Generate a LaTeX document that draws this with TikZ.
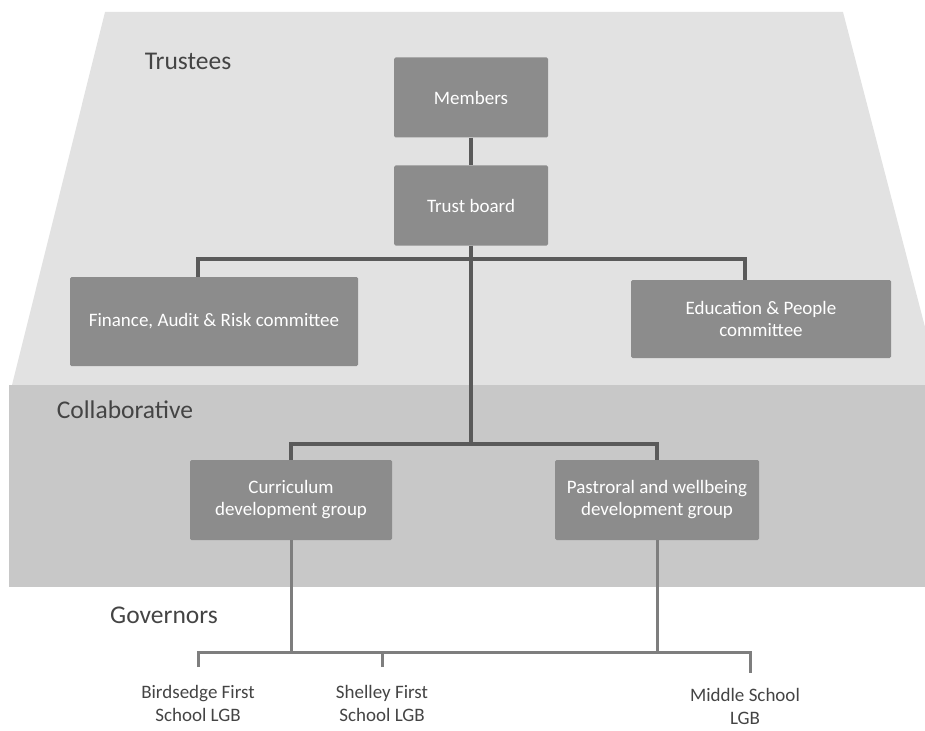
\documentclass[tikz,border=0pt]{standalone}
\usepackage{fontspec}
\setmainfont{Carlito}
\definecolor{paleband}{HTML}{E2E2E2}
\definecolor{midband}{HTML}{C8C8C8}
\definecolor{boxgray}{HTML}{8C8C8C}
\definecolor{linegray}{HTML}{5A5A5A}
\definecolor{lowgray}{HTML}{7E7E7E}
\definecolor{inkgray}{HTML}{444444}
\tikzset{
  unit/.style={fill=boxgray, text=white, rounded corners=1.5pt, align=center,
    font=\fontsize{19}{22}\selectfont, inner sep=2pt},
  tier/.style={text=inkgray, font=\fontsize{25.5}{30}\selectfont, inner sep=0pt},
  school/.style={text=inkgray, align=center, anchor=north, inner xsep=0pt, inner ysep=18pt,
    font=\fontsize{19}{23}\selectfont},
  link/.style={draw=linegray, line width=3.5pt},
  lowlink/.style={draw=lowgray, line width=3pt}
}
\begin{document}
\begin{tikzpicture}[x=1pt, y=-1pt]
  \useasboundingbox (0,0) rectangle (925,730);
  % the three tiers
  \fill[paleband] (105,12) -- (843,12) -- (925,327) -- (925,385) -- (12,385) -- cycle;
  \fill[midband] (9,385) rectangle (925,587);
  \node[tier] (trustees) at (188,61) {Trustees};
  \node[tier] (collab) at (125,410) {Collaborative};
  \node[tier] (governors) at (164,615) {Governors};

  % boxes
  \node[unit, minimum width=154pt, minimum height=80pt] (members) at (471,97.5) {Members};
  \node[unit, minimum width=154pt, minimum height=80pt] (board) at (471,205.5) {Trust board};
  \node[unit, minimum width=288pt, minimum height=89pt] (finance) at (214,321.5) {Finance, Audit \& Risk committee};
  \node[unit, minimum width=260pt, minimum height=78pt] (edu) at (761,319) {Education \& People\\committee};
  \node[unit, minimum width=202pt, minimum height=80pt] (curric) at (291,500) {Curriculum\\development group};
  \node[unit, minimum width=204pt, minimum height=80pt] (pastoral) at (657,500) {Pastroral and wellbeing\\development group};

  % schools
  \node[school] (birdsedge) at (198,667) {Birdsedge First\\School LGB};
  \node[school] (shelley) at (382,667) {Shelley First\\School LGB};
  \node[school] (middle) at (745,670) {Middle School\\LGB};

  \coordinate (trustbus) at (471,259);
  \coordinate (collabbus) at (471,444);
  \coordinate (govbus) at (471,652);

  % connectors
  \draw[link] (members) -- (board);
  \draw[link] ([xshift=-16pt]finance.north) |- (trustbus) -| ([xshift=-16pt]edu.north);
  \draw[link] (board.south) -- (collabbus);
  \draw[link] (curric.north) |- (collabbus) -| (pastoral.north);
  \draw[lowlink] (curric.south) -- (curric.south |- govbus);
  \draw[lowlink] (pastoral.south) -- (pastoral.south |- govbus);
  \draw[lowlink] (birdsedge.north) |- (govbus) -| ([xshift=5pt, yshift=-3pt]middle.north);
  \draw[lowlink] (shelley.north) -- (shelley.north |- govbus);
\end{tikzpicture}
\end{document}
